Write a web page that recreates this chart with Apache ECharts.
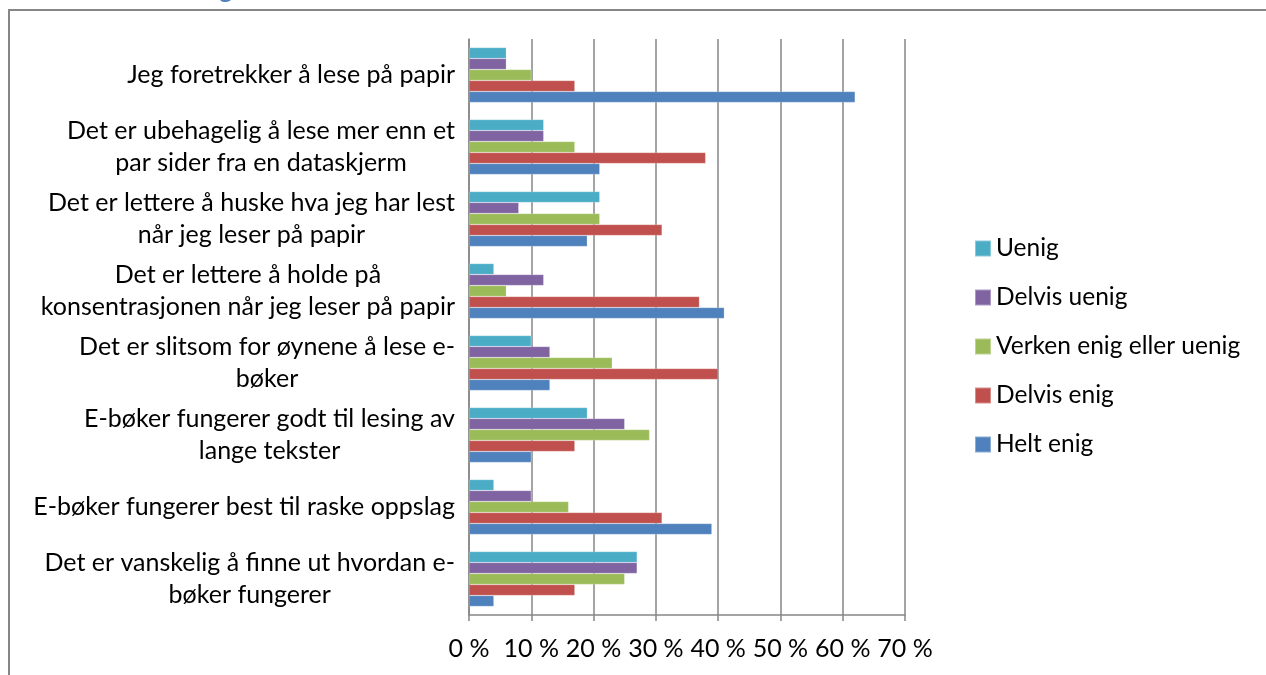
<!DOCTYPE html>
<html>
<head>
<meta charset="utf-8">
<script src="https://cdn.jsdelivr.net/npm/echarts@6/dist/echarts.min.js"></script>
<style>
	html, body { margin: 0; padding: 0; background: #fff; }
	#chart { width: 1266px; height: 675px; }
</style>
</head>
<body>
<div id="chart"></div>
<script>
// svar fra undersøkelsen, i prosent
const categories = [
	'Jeg foretrekker å lese på papir',
	'Det er ubehagelig å lese mer enn et\npar sider fra en dataskjerm',
	'Det er lettere å huske hva jeg har lest\nnår jeg leser på papir',
	'Det er lettere å holde på\nkonsentrasjonen når jeg leser på papir',
	'Det er slitsom for øynene å lese e-\nbøker',
	'E-bøker fungerer godt til lesing av\nlange tekster',
	'E-bøker fungerer best til raske oppslag',
	'Det er vanskelig å finne ut hvordan e-\nbøker fungerer',
];
const uenig = [6, 12, 21, 4, 10, 19, 4, 27];
const delvisUenig = [6, 12, 8, 12, 13, 25, 10, 27];
const verken = [10, 17, 21, 6, 23, 29, 16, 25];
const delvisEnig = [17, 38, 31, 37, 40, 17, 31, 17];
const heltEnig = [62, 21, 19, 41, 13, 10, 39, 4];
const xTicks = [0, 10, 20, 30, 40, 50, 60, 70];

const font = 'Lato';
const fs = 25;
const grey = '#868686';

const seriesDefs = [
	{ name: 'Uenig', data: uenig, color: '#4BACC6' },
	{ name: 'Delvis uenig', data: delvisUenig, color: '#8064A2' },
	{ name: 'Verken enig eller uenig', data: verken, color: '#9BBB59' },
	{ name: 'Delvis enig', data: delvisEnig, color: '#C0504D' },
	{ name: 'Helt enig', data: heltEnig, color: '#4F81BD' },
];

const chart = echarts.init(document.getElementById('chart'));
chart.setOption({
	animation: false,
	textStyle: { fontFamily: font },
	graphic: [
		{
			type: 'rect',
			shape: { x: 9, y: 10, width: 1300, height: 700 },
			style: { fill: 'none', stroke: grey, lineWidth: 2 },
			silent: true,
		},
		{
			type: 'text',
			style: { text: 'g', x: 219, y: -23, font: 'bold 26px ' + font, fill: '#4F81BD' },
		},
	],
	grid: { left: 469, right: 361, top: 39, bottom: 60 },
	legend: {
		orient: 'vertical',
		left: 969,
		top: 231,
		icon: 'rect',
		itemWidth: 16,
		itemHeight: 16,
		itemGap: 24,
		textStyle: { fontSize: 24.5, color: '#000', fontFamily: font, lineHeight: 25 },
		data: seriesDefs.map(s => s.name),
	},
	xAxis: {
		type: 'value',
		min: xTicks[0],
		max: xTicks[xTicks.length - 1],
		interval: 10,
		axisLine: { show: true, lineStyle: { color: grey, width: 1.5 } },
		axisTick: { show: true, length: 6, lineStyle: { color: grey, width: 1.5 } },
		splitLine: { lineStyle: { color: grey, width: 1.5 } },
		axisLabel: {
			margin: 21,
			fontSize: fs,
			color: '#000',
			formatter: v => v + ' %',
		},
	},
	yAxis: {
		type: 'category',
		inverse: true,
		data: categories,
		axisLine: { lineStyle: { color: grey, width: 1.5 } },
		axisTick: { length: 8, lineStyle: { color: grey, width: 1.5 } },
		axisLabel: {
			margin: 14,
			align: 'right',
			formatter: v => v.split('\n').map(l => '{c|' + l + '}').join('\n'),
			rich: {
				c: { align: 'center', fontSize: fs, lineHeight: 32, color: '#000', fontFamily: font },
			},
		},
	},
	series: seriesDefs.map(s => ({
		type: 'bar',
		name: s.name,
		data: s.data,
		barWidth: 11,
		barGap: '0%',
		itemStyle: { color: s.color, borderColor: 'rgba(255,255,255,0.35)', borderWidth: 0.6 },
	})),
});
</script>
</body>
</html>
